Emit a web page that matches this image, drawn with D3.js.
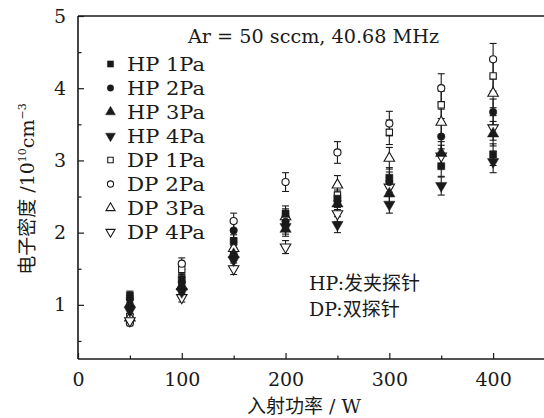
<!DOCTYPE html>
<html><head><meta charset="utf-8">
<script src="https://cdn.jsdelivr.net/npm/d3@7"></script>
<style>
html,body{margin:0;padding:0;background:#fff;}
svg{display:block;}
</style></head>
<body>
<svg id="chart" width="544" height="418"></svg>
<script>
const powers = [50, 100, 150, 200, 250, 300, 350, 400];
const seriesNames = ["HP 1Pa","HP 2Pa","HP 3Pa","HP 4Pa","DP 1Pa","DP 2Pa","DP 3Pa","DP 4Pa"];
const hp1 = [1.13,1.36,1.88,2.26,2.47,2.76,2.92,3.08];
const hp2 = [1.08,1.31,2.03,2.15,2.44,2.70,3.33,3.67];
const hp3 = [1.01,1.25,1.70,2.05,2.40,2.54,3.10,3.37];
const hp4 = [0.92,1.18,1.62,2.08,2.11,2.39,2.65,2.98];
const dp1 = [0.84,1.49,1.73,2.20,2.52,3.39,3.77,4.17];
const dp2 = [0.75,1.57,2.16,2.70,3.11,3.51,4.00,4.40];
const dp3 = [0.82,1.26,1.78,2.22,2.66,3.03,3.53,3.93];
const dp4 = [0.78,1.10,1.50,1.80,2.26,2.63,3.06,3.45];
const hp1Err = [0.06,0.07,0.09,0.11,0.12,0.14,0.15,0.15];
const hp2Err = [0.05,0.07,0.10,0.11,0.12,0.14,0.17,0.18];
const hp3Err = [0.05,0.06,0.09,0.10,0.12,0.13,0.16,0.17];
const hp4Err = [0.05,0.06,0.08,0.10,0.11,0.12,0.13,0.15];
const dp1Err = [0.04,0.07,0.09,0.11,0.13,0.17,0.19,0.21];
const dp2Err = [0.04,0.08,0.11,0.13,0.15,0.17,0.20,0.22];
const dp3Err = [0.04,0.06,0.09,0.11,0.13,0.15,0.18,0.20];
const dp4Err = [0.04,0.06,0.08,0.09,0.11,0.13,0.15,0.17];
const xTicks = [0, 100, 200, 300, 400];
const xMinorTicks = [50, 150, 250, 350];
const yTicks = [1, 2, 3, 4, 5];
const yMinorTicks = [0.5, 1.5, 2.5, 3.5, 4.5];

const values = [hp1,hp2,hp3,hp4,dp1,dp2,dp3,dp4];
const errors = [hp1Err,hp2Err,hp3Err,hp4Err,dp1Err,dp2Err,dp3Err,dp4Err];
const shapes = [
  {type:d3.symbolSquare, size:50, fill:true, rot:0},
  {type:d3.symbolCircle, size:44, fill:true, rot:0},
  {type:d3.symbolTriangle, size:55, fill:true, rot:0},
  {type:d3.symbolTriangle, size:55, fill:true, rot:180},
  {type:d3.symbolSquare, size:40, fill:false, rot:0},
  {type:d3.symbolCircle, size:40, fill:false, rot:0},
  {type:d3.symbolTriangle, size:48, fill:false, rot:0},
  {type:d3.symbolTriangle, size:48, fill:false, rot:180}
];

const ink = "#1a1a1a";
const serif = "'DejaVu Serif', 'Liberation Serif', serif";
const cjk = "'Noto Sans CJK SC', sans-serif";

const svg = d3.select("#chart");
const x = d3.scaleLinear().domain([0, 450]).range([78, 545]);
const y = d3.scaleLinear().domain([0.25, 5]).range([359, 16]);

// frame
svg.append("line").attr("x1", x(0)).attr("x2", x(450)).attr("y1", y(0.25)).attr("y2", y(0.25))
  .attr("stroke", ink).attr("stroke-width", 1.6);
svg.append("line").attr("x1", x(0)).attr("x2", x(450)).attr("y1", y(5)).attr("y2", y(5))
  .attr("stroke", ink).attr("stroke-width", 1.6);
svg.append("line").attr("x1", x(0)).attr("x2", x(0)).attr("y1", y(0.25)).attr("y2", y(5))
  .attr("stroke", ink).attr("stroke-width", 1.6);

// x axis
const xAxis = svg.append("g").attr("transform", `translate(0,${y(0.25)})`)
  .call(d3.axisBottom(x).tickValues(xTicks).tickSize(-6).tickPadding(14).tickFormat(d3.format("d")));
xAxis.select(".domain").remove();
xAxis.selectAll("line").attr("stroke", ink).attr("stroke-width", 1.2);
xAxis.selectAll("text").attr("font-family", serif).attr("font-size", 19).attr("fill", ink);
const xMinor = svg.append("g").attr("transform", `translate(0,${y(0.25)})`)
  .call(d3.axisBottom(x).tickValues(xMinorTicks).tickSize(-3.5).tickFormat(""));
xMinor.select(".domain").remove();
xMinor.selectAll("line").attr("stroke", ink).attr("stroke-width", 1.2);

// y axis
const yAxis = svg.append("g").attr("transform", `translate(${x(0)},0)`)
  .call(d3.axisLeft(y).tickValues(yTicks).tickSize(-6).tickPadding(12).tickFormat(d3.format("d")));
yAxis.select(".domain").remove();
yAxis.selectAll("line").attr("stroke", ink).attr("stroke-width", 1.2);
yAxis.selectAll("text").attr("font-family", serif).attr("font-size", 19).attr("fill", ink);
const yMinor = svg.append("g").attr("transform", `translate(${x(0)},0)`)
  .call(d3.axisLeft(y).tickValues(yMinorTicks).tickSize(-3.5).tickFormat(""));
yMinor.select(".domain").remove();
yMinor.selectAll("line").attr("stroke", ink).attr("stroke-width", 1.2);

// error bars
const capW = 3.5;
values.forEach((vals, si) => {
  const g = svg.append("g");
  vals.forEach((v, i) => {
    const e = errors[si][i];
    const cx = x(powers[i]);
    g.append("line").attr("x1", cx).attr("x2", cx).attr("y1", y(v - e)).attr("y2", y(v + e))
      .attr("stroke", ink).attr("stroke-width", 1.1);
    [v - e, v + e].forEach(t => {
      g.append("line").attr("x1", cx - capW).attr("x2", cx + capW).attr("y1", y(t)).attr("y2", y(t))
        .attr("stroke", ink).attr("stroke-width", 1.1);
    });
  });
});

// markers
function drawMarker(g, si, cx, cy, scale) {
  const s = shapes[si];
  const sym = d3.symbol().type(s.type).size(s.size * (scale || 1));
  g.append("path").attr("d", sym())
    .attr("transform", `translate(${cx},${cy}) rotate(${s.rot})`)
    .attr("fill", s.fill ? ink : "#fff")
    .attr("stroke", ink).attr("stroke-width", s.fill ? 0.5 : 1.1);
}
[4,5,6,7,0,1,2,3].forEach(si => {
  const g = svg.append("g");
  values[si].forEach((v, i) => drawMarker(g, si, x(powers[i]), y(v), 1));
});

// legend
const legY0 = 64, legDy = 24;
seriesNames.forEach((name, si) => {
  const ly = legY0 + si * legDy;
  drawMarker(svg, si, 110.5, ly, 0.75);
  svg.append("text").attr("x", 127).attr("y", ly + 7).text(name)
    .attr("font-family", serif).attr("font-size", 19).attr("fill", ink)
    .attr("textLength", 78).attr("lengthAdjust", "spacingAndGlyphs");
});

// annotation top
svg.append("text").attr("x", 188).attr("y", 43).text("Ar = 50 sccm, 40.68 MHz")
  .attr("font-family", serif).attr("font-size", 18).attr("fill", ink)
  .attr("textLength", 251).attr("lengthAdjust", "spacingAndGlyphs");

// HP/DP notes
const note1 = svg.append("text").attr("x", 309).attr("y", 290).attr("fill", ink).attr("font-size", 19);
note1.append("tspan").attr("font-family", serif).text("HP:");
note1.append("tspan").attr("font-family", cjk).text("发夹探针");
const note2 = svg.append("text").attr("x", 309).attr("y", 316).attr("fill", ink).attr("font-size", 19);
note2.append("tspan").attr("font-family", serif).text("DP:");
note2.append("tspan").attr("font-family", cjk).text("双探针");

// x title
const xt = svg.append("text").attr("x", 304).attr("y", 413).attr("text-anchor", "middle")
  .attr("fill", ink).attr("font-size", 19);
xt.append("tspan").attr("font-family", cjk).text("入射功率");
xt.append("tspan").attr("font-family", serif).text(" / W");

// y title
const yt = svg.append("text").attr("transform", "translate(34,189) rotate(-90)")
  .attr("text-anchor", "middle").attr("fill", ink).attr("font-size", 19);
yt.append("tspan").attr("font-family", cjk).text("电子密度");
yt.append("tspan").attr("font-family", serif).text(" /10");
yt.append("tspan").attr("font-family", serif).attr("font-size", 11).attr("dy", -8).text("10");
yt.append("tspan").attr("font-family", serif).attr("dy", 8).text("cm");
yt.append("tspan").attr("font-family", serif).attr("font-size", 11).attr("dy", -8).text("−3");
</script>
</body></html>
